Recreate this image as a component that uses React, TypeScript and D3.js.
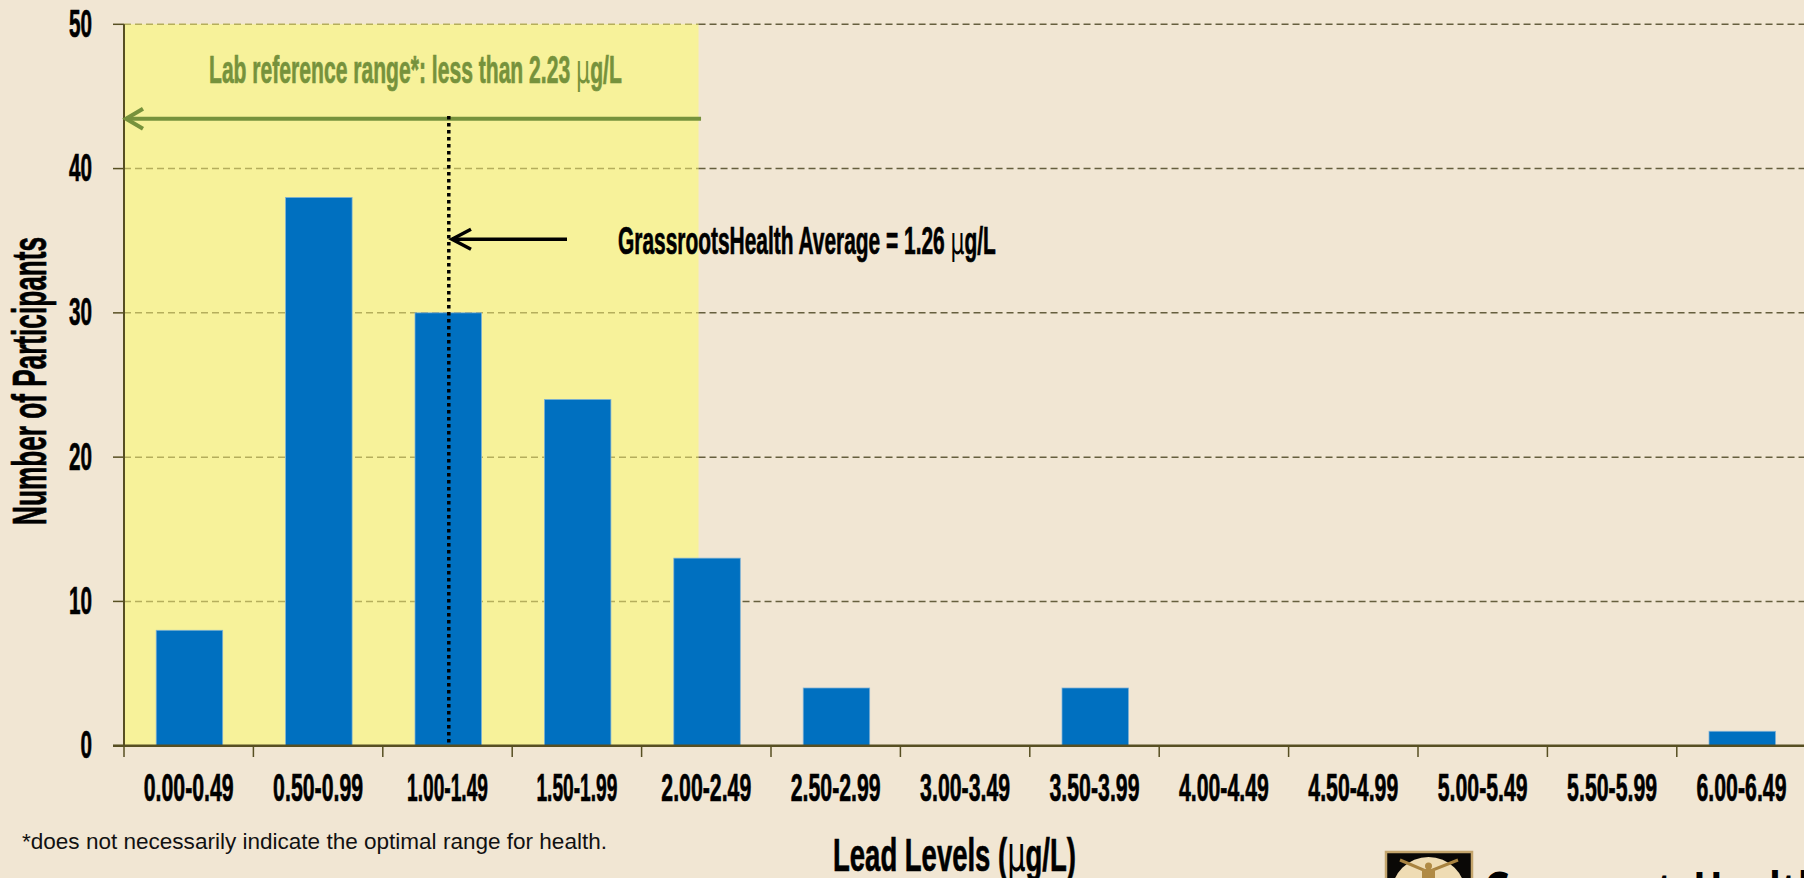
// App.tsx - lead levels histogram
import React, { useEffect, useRef } from "react"
import * as d3 from "d3"

const categories = ["0.00-0.49", "0.50-0.99", "1.00-1.49", "1.50-1.99", "2.00-2.49", "2.50-2.99", "3.00-3.49", "3.50-3.99", "4.00-4.49", "4.50-4.99", "5.00-5.49", "5.50-5.99", "6.00-6.49"]
const participants = [8, 38, 30, 24, 13, 4, 0, 4, 0, 0, 0, 0, 1]
const yTicks = [0, 10, 20, 30, 40, 50]
// in lead level units
const labRangeEnd = 2.22
const averageLine = 1.255
const labArrowValue = 43.45
const avgArrowValue = 35.1

const WIDTH = 1804
const HEIGHT = 878
const narrow = "'Liberation Sans Narrow', 'Liberation Sans', sans-serif"

type Sel = d3.Selection<any, any, any, any>

// The original face is a tall gothic: squeeze a narrow bold to the measured width
const gothic = (parent: Sel, x: number, y: number, parts: string[], size: number, color: string, width: number, anchor = "start", rotate = 0) => {
    const t = parent.append("text").attr("font-family", narrow).attr("font-weight", 700).attr("font-size", size).attr("fill", color).attr("stroke", color).attr("stroke-width", 0.7).attr("text-anchor", anchor)
    parts.forEach((p) => {
        const s = t.append("tspan").text(p)
        if (p === "\u00b5") s.attr("font-family", "'DejaVu Sans', sans-serif").attr("font-weight", 400).attr("font-size", size * 1.05).attr("stroke-width", 0)
    })
    const len = (t.node() as SVGTextElement).getComputedTextLength()
    t.attr("transform", `translate(${x},${y}) rotate(${rotate}) scale(${width / len},1)`)
    return t
}

export default function App() {
    const ref = useRef<SVGSVGElement>(null)

    useEffect(() => {
        const svg = d3.select(ref.current)
        svg.selectAll("*").remove()

        const x = d3.scaleBand<string>().domain(categories).range([124, 1806.2]).paddingInner(0.49).paddingOuter(0.245)
        const y = d3.scaleLinear().domain([0, 50]).range([745.7, 24.3])
        const lead = d3.scaleLinear().domain([0, 6.5]).range([124, 1806.2])
        const line = d3.line<[number, number]>()

        // background and lab reference band
        svg.append("rect").attr("width", WIDTH).attr("height", HEIGHT).attr("fill", "#f1e6d3")
        svg.append("rect").attr("x", lead(0)).attr("y", y(50)).attr("width", lead(labRangeEnd) - lead(0)).attr("height", y(0) - y(50)).attr("fill", "#f7f29a")

        // gridlines, lighter where they cross the band
        const grid = svg.append("g").attr("stroke-width", 1.5).attr("stroke-dasharray", "7 4")
        yTicks.filter((d) => d > 0).forEach((d) => {
            grid.append("line").attr("x1", lead(0)).attr("x2", lead(labRangeEnd)).attr("y1", y(d)).attr("y2", y(d)).attr("stroke", "#b5ae5c")
            grid.append("line").attr("x1", lead(labRangeEnd)).attr("x2", WIDTH).attr("y1", y(d)).attr("y2", y(d)).attr("stroke", "#665f3e")
        })

        // bars
        svg.append("g").selectAll("rect").data(participants).join("rect")
            .attr("x", (_, i) => (x(categories[i]) as number) + 0.5)
            .attr("y", (d) => y(d))
            .attr("width", x.bandwidth() + 0.5)
            .attr("height", (d) => y(0) - y(d))
            .attr("fill", "#0070c0")
            .attr("stroke", "#7fb2d6")
            .attr("stroke-width", (d) => (d > 0 ? 0.75 : 0))

        // axes
        const axisColor = "#574f22"
        svg.append("line").attr("x1", lead(0)).attr("x2", lead(0)).attr("y1", y(50)).attr("y2", y(0)).attr("stroke", axisColor).attr("stroke-width", 2)
        svg.append("line").attr("x1", 113).attr("x2", WIDTH).attr("y1", y(0)).attr("y2", y(0)).attr("stroke", axisColor).attr("stroke-width", 2.5)
        yTicks.forEach((d) => {
            svg.append("line").attr("x1", 113).attr("x2", lead(0)).attr("y1", y(d)).attr("y2", y(d)).attr("stroke", axisColor).attr("stroke-width", 1.5)
            gothic(svg, 92, y(d) + 12.5, [String(d)], 38.5, "#000", d === 0 ? 11.5 : 23, "end")
        })
        categories.forEach((c) => {
            const edge = (x(c) as number) - x.step() * 0.245
            svg.append("line").attr("x1", edge).attr("x2", edge).attr("y1", y(0)).attr("y2", 757).attr("stroke", axisColor).attr("stroke-width", 1.5)
            const mid = (x(c) as number) + x.bandwidth() / 2
            const ones = c.split("1").length - 1
            gothic(svg, mid, 800.7, [c], 39, "#000", 90 - ones * 4.5, "middle")
        })

        // axis titles
        gothic(svg, 46, 525, ["Number of Participants"], 48, "#000", 288, "start", -90)
        gothic(svg, 833, 870.7, ["Lead Levels (", "\u00b5", "g/L)"], 47, "#000", 243)

        // lab reference annotation
        const green = "#76923c"
        gothic(svg, 209, 83, ["Lab reference range*: less than 2.23 ", "\u00b5", "g/L"], 38.5, green, 413)
        svg.append("path").attr("d", line([[lead(labRangeEnd) + 2.5, y(labArrowValue)], [lead(0) + 2, y(labArrowValue)]])).attr("stroke", green).attr("stroke-width", 4).attr("fill", "none")
        svg.append("path").attr("d", line([[143, y(labArrowValue) - 10], [lead(0) + 2, y(labArrowValue)], [143, y(labArrowValue) + 10]])).attr("stroke", green).attr("stroke-width", 4).attr("fill", "none")

        // average marker
        svg.append("line").attr("x1", lead(averageLine)).attr("x2", lead(averageLine)).attr("y1", 116).attr("y2", y(0)).attr("stroke", "#000").attr("stroke-width", 3.5).attr("stroke-dasharray", "3.5 3.5")
        svg.append("path").attr("d", line([[567, y(avgArrowValue)], [452, y(avgArrowValue)]])).attr("stroke", "#000").attr("stroke-width", 3.5).attr("fill", "none")
        svg.append("path").attr("d", line([[471, y(avgArrowValue) - 10], [452, y(avgArrowValue)], [471, y(avgArrowValue) + 10]])).attr("stroke", "#000").attr("stroke-width", 3.5).attr("fill", "none")
        gothic(svg, 618, 254, ["GrassrootsHealth Average = 1.26 ", "\u00b5", "g/L"], 38, "#000", 378)

        // footnote
        svg.append("text").attr("x", 22).attr("y", 848.5).attr("font-family", "'Liberation Sans', Arial, sans-serif").attr("font-size", 22.5).attr("fill", "#111").attr("textLength", 585).attr("lengthAdjust", "spacingAndGlyphs").text("*does not necessarily indicate the optimal range for health.")

        // logo, cut off by the bottom of the picture
        const logo = svg.append("g")
        logo.append("rect").attr("x", 1386).attr("y", 852).attr("width", 86).attr("height", 40).attr("fill", "#0a0806").attr("stroke", "#c4a56c").attr("stroke-width", 2.5)
        logo.append("circle").attr("cx", 1428.5).attr("cy", 894).attr("r", 37).attr("fill", "#efdcb4")
        logo.append("path").attr("d", line([[1400, 860], [1428, 872], [1458, 860]])).attr("stroke", "#a98340").attr("stroke-width", 3).attr("fill", "none")
        logo.append("circle").attr("cx", 1428.5).attr("cy", 866).attr("r", 3.5).attr("fill", "#b08a45")
        logo.append("rect").attr("x", 1422).attr("y", 869).attr("width", 13).attr("height", 12).attr("fill", "#b08a45")
        svg.append("text").attr("transform", "translate(1483,911) scale(0.72,1)").attr("font-family", "'Open Sans', sans-serif").attr("font-weight", 700).attr("font-size", 54).attr("fill", "#000").text("GrassrootsHealth")
    }, [])

    return <svg ref={ref} width={WIDTH} height={HEIGHT} style={{ position: "absolute", left: 0, top: 0, display: "block" }} />
}
